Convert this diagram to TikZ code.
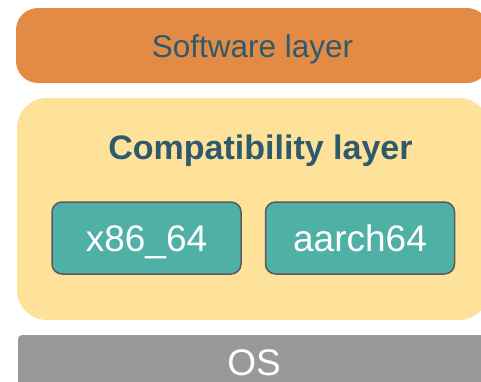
\documentclass[tikz,border=0pt]{standalone}
\usepackage{fontspec}
\setmainfont{Liberation Sans}
\usepackage{xcolor}
\definecolor{sworange}{HTML}{E38B45}
\definecolor{compyellow}{HTML}{FFE29A}
\definecolor{archteal}{HTML}{4FB0A6}
\definecolor{archedge}{HTML}{5A5A5A}
\definecolor{inkblue}{HTML}{2E5A6E}
\definecolor{osgray}{HTML}{999999}
\usetikzlibrary{positioning}

\begin{document}
\begin{tikzpicture}[
  x=1pt, y=-1pt,
  layer/.style={rectangle, rounded corners=22pt, fill=sworange, inner sep=0pt,
                minimum width=473pt, minimum height=75pt, text=inkblue,
                font=\fontsize{31.5}{36}\selectfont, text height=24pt, text depth=0pt},
  compat/.style={rectangle, rounded corners=30pt, fill=compyellow, inner sep=0pt,
                 minimum width=472pt, minimum height=222pt},
  hdr/.style={font=\fontsize{34}{40}\selectfont\bfseries, text=inkblue, inner sep=0pt,
              text height=24pt, text depth=0pt},
  arch/.style={rectangle, rounded corners=10pt, draw=archedge, fill=archteal,
               line width=1.5pt, minimum width=189pt, minimum height=72pt, inner sep=0pt,
               text=white, font=\fontsize{37}{42}\selectfont, text height=27pt, text depth=0pt},
  osbar/.style={rectangle, rounded corners=4pt, fill=osgray, inner sep=0pt,
                minimum width=472pt, minimum height=54pt, text=white,
                font=\fontsize{37}{42}\selectfont, text height=26pt, text depth=0pt},
]
\clip (0,0) rectangle (481,381);

% ================= software layer on top
\node[layer] (sw) at (252.5,45.5) {Software layer};

% ================= compatibility layer with its two architectures
\node[compat] (cl) at (253,209) {};
\node[hdr] (clhdr) at (260.5,147) {Compatibility layer};
\node[arch] (x86) at (146.5,238) {x86\_64};
\node[arch, right=23pt of x86] (arm) {aarch64};

% ================= operating system at the bottom
\node[osbar] (os) at (254,362) {OS};
\end{tikzpicture}
\end{document}
